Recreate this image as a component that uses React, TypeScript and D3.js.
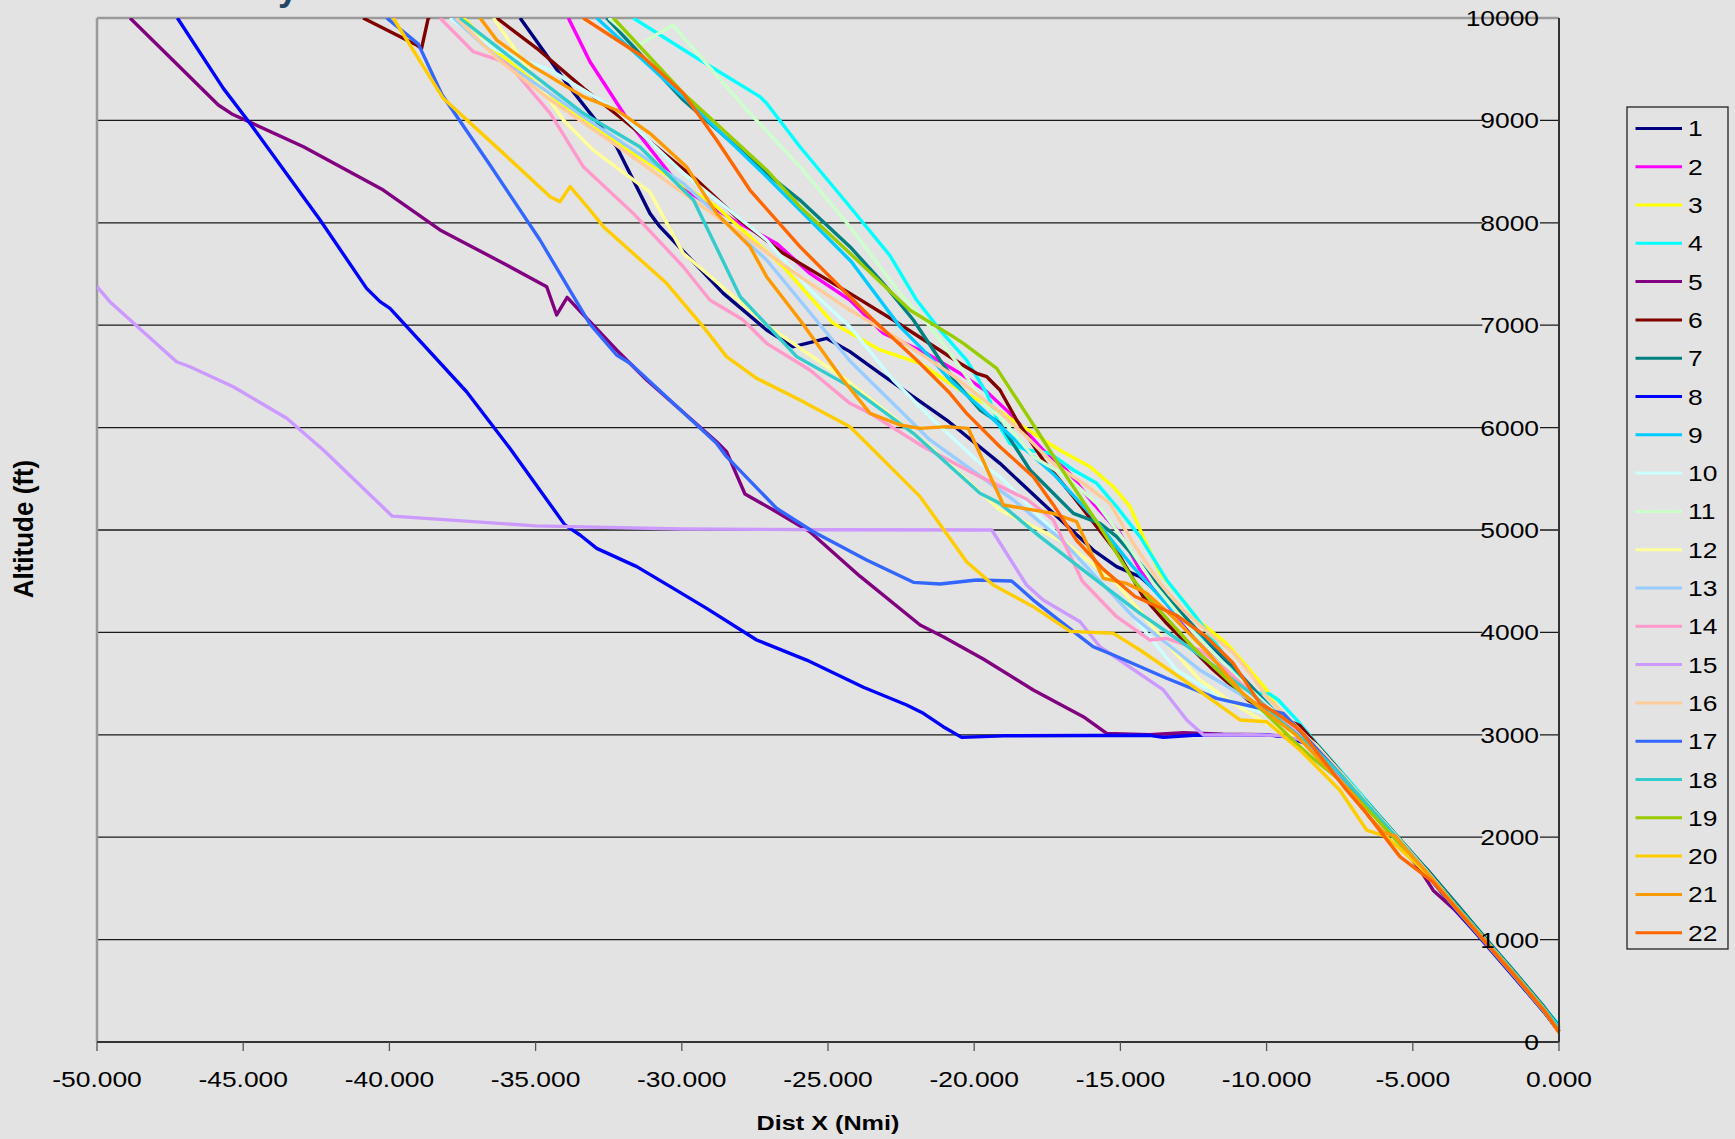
import React from "react";
import * as d3 from "d3";

type P = [number, number];

const xTicks = [-50, -45, -40, -35, -30, -25, -20, -15, -10, -5, 0];
const yTicks = [0, 1000, 2000, 3000, 4000, 5000, 6000, 7000, 8000, 9000, 10000];
const seriesNames = ["1","2","3","4","5","6","7","8","9","10","11","12","13","14","15","16","17","18","19","20","21","22"];
const seriesColors = ["#000080","#FF00FF","#FFFF00","#00FFFF","#800080","#800000","#008080","#0000FF","#00CCFF","#CCFFFF","#CCFFCC","#FFFF99","#99CCFF","#FF99CC","#CC99FF","#FFCC99","#3366FF","#33CCCC","#99CC00","#FFCC00","#FF9900","#FF6600"];

const s1: P[] = [[-35.53,10000],[-33.94,9362],[-32.23,8743],[-31.09,8092],[-30.75,7962],[-28.58,7311],[-27.1,6953],[-26.19,6790],[-25.73,6823],[-25.05,6872],[-24.25,6742],[-23.22,6530],[-20.94,6074],[-19.12,5651],[-17.41,5195],[-15.93,4804],[-15.13,4642],[-14.33,4544],[-13.42,4316],[-12.63,4023],[-11.14,3665],[-10.91,3568],[-10.0,3274],[-9.2,3120],[-8.5,2950],[-7.5,2630],[-6.5,2300],[-5.5,1980],[-4.5,1650],[-3.5,1300],[-2.5,970],[-1.5,640],[-0.5,300],[0,100]];
const s2: P[] = [[-33.88,10000],[-33.14,9573],[-31.77,8972],[-30.06,8353],[-28.24,8027],[-26.76,7799],[-25.62,7506],[-24.25,7246],[-23.11,6921],[-21.63,6725],[-20.49,6530],[-19.57,6351],[-18.78,6139],[-17.64,5781],[-16.84,5586],[-15.93,5260],[-15.01,4967],[-14.33,4609],[-13.2,4200],[-12.0,3850],[-11.0,3560],[-10.0,3280],[-9.2,3100],[-8.5,2960],[-7.5,2650],[-6.5,2320],[-5.5,1990],[-4.5,1660],[-3.5,1310],[-2.5,980],[-1.5,650],[-0.5,310],[0,120]];
const s3: P[] = [[-37.47,10000],[-36.33,9671],[-34.28,9199],[-31.66,8678],[-28.81,8157],[-26.53,7571],[-24.82,7018],[-23.22,6758],[-21.85,6628],[-20.49,6367],[-19.12,6155],[-17.98,5944],[-17.08,5781],[-16.04,5618],[-15.24,5423],[-14.67,5228],[-14.22,4935],[-13.64,4577],[-12.96,4349],[-12.28,4100],[-11.37,3894],[-10.57,3633],[-10.0,3438],[-9.66,3274],[-9.0,3080],[-8.2,2850],[-7.2,2540],[-6.3,2230],[-5.5,1970],[-4.5,1650],[-3.5,1310],[-2.5,970],[-1.5,640],[-0.5,300],[0,100]];
const s4: P[] = [[-31.66,10000],[-29.38,9590],[-27.33,9232],[-27.1,9167],[-25.96,8743],[-24.25,8157],[-22.88,7679],[-21.97,7246],[-21.17,6953],[-20.26,6660],[-19.57,6335],[-19.12,6009],[-18.78,5846],[-18.21,5781],[-17.41,5749],[-16.61,5586],[-15.81,5456],[-15.13,5228],[-14.33,4935],[-13.42,4512],[-12.51,4186],[-11.82,3926],[-11.0,3600],[-10.4,3410],[-9.9,3400],[-9.6,3340],[-8.97,3145],[-8.3,2920],[-7.5,2660],[-6.5,2330],[-5.5,2000],[-4.5,1670],[-3.5,1330],[-2.5,1000],[-1.5,670],[-0.5,330],[0,170]];
const s5: P[] = [[-48.87,10000],[-45.85,9150],[-45.39,9063],[-44.88,8997],[-42.94,8743],[-40.21,8320],[-38.27,7930],[-35.99,7588],[-34.62,7376],[-34.28,7100],[-33.92,7272],[-33.14,7034],[-32.23,6758],[-31.2,6465],[-28.81,5862],[-28.47,5765],[-27.84,5352],[-26.87,5195],[-25.62,4983],[-23.91,4549],[-21.85,4072],[-21.06,3958],[-19.69,3740],[-17.98,3438],[-16.27,3177],[-15.47,3014],[-14.0,3000],[-12.85,3020],[-11.5,3005],[-10.0,3000],[-9.3,2980],[-8.5,2910],[-7.5,2620],[-6.5,2280],[-5.5,1960],[-4.7,1660],[-4.3,1480],[-3.6,1300],[-2.5,960],[-1.5,630],[-0.5,290],[0,110]];
const s6: P[] = [[-40.9,10000],[-39.07,9736],[-38.9,9704],[-38.67,10000],[-37.5,10250],[-36.33,10000],[-34.96,9704],[-33.36,9313],[-31.99,9004],[-29.49,8418],[-28.02,8027],[-26.53,7702],[-24.25,7311],[-22.77,7051],[-20.49,6628],[-19.92,6530],[-19.57,6497],[-19.12,6367],[-18.55,6074],[-17.64,5684],[-16.61,5326],[-15.81,5033],[-15.01,4740],[-14.22,4349],[-13.42,4089],[-12.74,3894],[-11.82,3633],[-10.6,3330],[-9.6,3180],[-8.86,3090],[-7.72,2722],[-6.58,2331],[-5.32,1907],[-4.5,1680],[-3.5,1340],[-2.5,1000],[-1.5,660],[-0.5,320],[0,130]];
const s7: P[] = [[-32.57,10000],[-29.95,9199],[-27.1,8483],[-25.96,8222],[-24.25,7767],[-23.11,7409],[-22.08,7051],[-21.17,6660],[-20.6,6432],[-19.8,6172],[-19.12,6042],[-18.09,5586],[-16.61,5163],[-15.7,5065],[-15.13,4935],[-14.33,4674],[-13.42,4349],[-12.3,4000],[-11.0,3620],[-9.8,3250],[-9.0,3020],[-8.5,2880],[-7.5,2620],[-6.5,2320],[-5.5,2000],[-4.5,1680],[-3.5,1350],[-2.5,1010],[-1.5,680],[-0.5,340],[0,150]];
const s8: P[] = [[-47.25,10000],[-45.68,9313],[-44.77,8972],[-42.37,8027],[-40.78,7360],[-40.32,7230],[-39.98,7165],[-37.36,6350],[-35.88,5798],[-34.0,5050],[-33.48,4951],[-32.91,4821],[-31.54,4642],[-30.29,4430],[-29.15,4235],[-27.44,3926],[-25.73,3730],[-23.79,3464],[-22.31,3291],[-21.74,3210],[-21.06,3079],[-20.43,2975],[-19.0,2990],[-16.0,2993],[-14.0,2995],[-13.53,2975],[-12.5,2995],[-10.0,3000],[-9.3,2980],[-8.5,2900],[-7.5,2610],[-6.5,2290],[-5.5,1960],[-4.5,1630],[-3.5,1280],[-2.5,950],[-1.5,620],[-0.5,290],[0,100]];
const s9: P[] = [[-32.91,10000],[-29.95,9232],[-27.1,8450],[-25.96,8125],[-24.2,7620],[-22.54,6986],[-21.63,6725],[-20.83,6465],[-19.69,6172],[-18.5,5850],[-17.3,5550],[-16.0,5150],[-14.6,4650],[-13.5,4300],[-12.3,3950],[-11.0,3560],[-10.0,3300],[-9.0,3040],[-8.3,2880],[-7.5,2640],[-6.5,2310],[-5.5,1990],[-4.5,1660],[-3.5,1320],[-2.5,990],[-1.5,660],[-0.5,320],[0,140]];
const s10: P[] = [[-37.93,10000],[-36.33,9687],[-35.88,9638],[-34.5,9492],[-32.23,9102],[-29.95,8483],[-27.1,7832],[-25.62,7344],[-24.25,6986],[-22.77,6465],[-21.4,6074],[-19.8,5651],[-19.12,5521],[-16.84,4869],[-14.56,4153],[-13.08,3633],[-11.5,3350],[-10.0,3200],[-9.2,3050],[-8.5,2930],[-7.5,2630],[-6.5,2300],[-5.5,1980],[-4.5,1650],[-3.5,1310],[-2.5,980],[-1.5,650],[-0.5,310],[0,120]];
const s11: P[] = [[-32.5,10000],[-31.44,9740],[-30.31,9932],[-29.27,9590],[-27.67,9069],[-25.96,8548],[-24.25,7962],[-22.54,7311],[-21.51,6986],[-20.49,6595],[-19.57,6204],[-19.12,6107],[-17.98,5716],[-16.84,5521],[-15.81,5260],[-14.79,4869],[-13.88,4479],[-12.5,4000],[-11.0,3560],[-10.0,3290],[-9.0,3060],[-8.3,2900],[-7.5,2640],[-6.5,2310],[-5.5,1990],[-4.5,1660],[-3.5,1320],[-2.5,990],[-1.5,660],[-0.5,320],[0,130]];
const s12: P[] = [[-36.44,10000],[-34.05,9004],[-33.03,8710],[-31.09,8300],[-29.95,7702],[-27.1,7002],[-24.3,6450],[-21.51,5813],[-19.12,5195],[-17.98,5033],[-16.84,4869],[-15.13,4479],[-13.42,3894],[-12.28,3535],[-11.14,3307],[-10.0,3112],[-9.0,2980],[-8.3,2830],[-7.5,2600],[-6.5,2280],[-5.5,1970],[-4.5,1640],[-3.5,1300],[-2.5,970],[-1.5,640],[-0.5,300],[0,110]];
const s13: P[] = [[-37.81,10000],[-36.33,9622],[-33.37,9037],[-29.95,8385],[-27.1,7637],[-24.25,6650],[-21.51,5879],[-18.66,5293],[-17.0,4900],[-14.56,4153],[-12.28,3633],[-10.57,3340],[-9.5,3150],[-8.5,2940],[-7.5,2630],[-6.5,2300],[-5.5,1980],[-4.5,1650],[-3.5,1310],[-2.5,980],[-1.5,650],[-0.5,310],[0,120]];
const s14: P[] = [[-38.27,10000],[-37.13,9671],[-36.1,9573],[-35.76,9492],[-34.5,9069],[-33.37,8548],[-31.66,8092],[-29.95,7571],[-29.04,7246],[-27.9,7051],[-27.1,6823],[-25.62,6562],[-24.25,6237],[-23.56,6139],[-21.74,5813],[-19.8,5521],[-18.2,5300],[-17.3,5100],[-16.3,4500],[-15.13,4153],[-14.0,3926],[-13.42,3942],[-12.28,3828],[-11.37,3633],[-10.3,3350],[-9.5,3150],[-8.5,2930],[-7.5,2620],[-6.5,2290],[-5.5,1970],[-4.5,1640],[-3.5,1300],[-2.5,970],[-1.5,640],[-0.5,300],[0,110]];
const s15: P[] = [[-50,7376],[-49.56,7230],[-47.28,6643],[-46.82,6594],[-45.34,6399],[-43.51,6091],[-42.26,5781],[-39.9,5135],[-35.0,5040],[-30.0,5010],[-25.0,5003],[-19.4,5000],[-18.21,4463],[-17.64,4316],[-16.38,4104],[-15.7,3860],[-13.53,3438],[-12.73,3145],[-12.16,2998],[-10.5,3000],[-9.6,2995],[-8.8,2950],[-8.2,2800],[-7.5,2600],[-6.5,2280],[-5.5,1960],[-4.5,1640],[-3.5,1300],[-2.5,970],[-1.5,640],[-0.5,300],[0,110]];
const s16: P[] = [[-37.7,10000],[-36.3,9600],[-34.5,9200],[-32.2,8750],[-30.0,8300],[-28.0,7900],[-25.96,7474],[-24.25,7148],[-22.54,6855],[-20.83,6530],[-19.12,6150],[-18.21,5911],[-17.3,5651],[-16.27,5456],[-15.36,5260],[-14.56,4869],[-13.64,4479],[-12.85,4219],[-11.82,3958],[-11.14,3800],[-10.57,3600],[-10.0,3372],[-9.43,3210],[-8.7,3000],[-7.5,2640],[-6.5,2310],[-5.5,1990],[-4.5,1660],[-3.5,1320],[-2.5,990],[-1.5,660],[-0.5,320],[0,120]];
const s17: P[] = [[-40.09,10000],[-39.01,9745],[-38.2,9250],[-36.56,8565],[-34.85,7832],[-33.14,7010],[-32.23,6709],[-31.77,6628],[-28.81,5846],[-28.47,5716],[-26.76,5212],[-25.5,4983],[-23.68,4707],[-22.08,4489],[-21.17,4473],[-19.92,4512],[-18.72,4502],[-17.98,4316],[-16.38,3958],[-15.93,3860],[-15.24,3779],[-13.42,3552],[-11.71,3356],[-10.45,3274],[-9.43,3210],[-8.6,2960],[-7.5,2620],[-6.5,2290],[-5.5,1970],[-4.5,1630],[-3.5,1290],[-2.5,960],[-1.5,630],[-0.5,290],[0,100]];
const s18: P[] = [[-37.59,10000],[-36.33,9720],[-33.37,9069],[-31.44,8743],[-29.6,8222],[-28.0,7278],[-26.07,6693],[-24.25,6400],[-22.08,5944],[-19.8,5358],[-19.12,5260],[-17.75,4935],[-16.27,4609],[-14.33,4186],[-12.85,3894],[-12.06,3730],[-10.5,3400],[-9.5,3130],[-8.5,2900],[-7.5,2620],[-6.5,2300],[-5.5,1980],[-4.5,1650],[-3.5,1320],[-2.5,990],[-1.5,660],[-0.5,320],[0,130]];
const s19: P[] = [[-32.34,10000],[-29.95,9265],[-27.1,8516],[-25.96,8157],[-24.25,7702],[-22.2,7148],[-20.72,6888],[-20.37,6823],[-19.23,6579],[-17.86,5977],[-16.84,5521],[-15.7,5033],[-14.56,4512],[-13.88,4284],[-12.5,3850],[-11.0,3450],[-10.0,3200],[-9.0,2920],[-8.5,2790],[-7.5,2560],[-6.5,2260],[-5.5,1950],[-4.5,1630],[-3.5,1300],[-2.5,970],[-1.5,640],[-0.5,300],[0,110]];
const s20: P[] = [[-39.87,10000],[-38.16,9216],[-36.1,8678],[-34.5,8255],[-34.17,8206],[-33.82,8353],[-33.14,8125],[-32.68,7962],[-30.52,7409],[-29.27,6986],[-28.47,6693],[-27.44,6481],[-25.96,6270],[-24.25,6009],[-23.79,5879],[-21.85,5326],[-20.26,4690],[-19.35,4463],[-17.98,4251],[-16.72,4010],[-15.24,3991],[-14.33,3828],[-12.51,3470],[-10.91,3145],[-10.0,3128],[-8.86,2852],[-7.5,2461],[-6.58,2070],[-5.9,2005],[-5.3,1850],[-4.5,1640],[-3.5,1300],[-2.5,970],[-1.5,640],[-0.5,300],[0,100]];
const s21: P[] = [[-36.9,10000],[-36.33,9785],[-35.08,9525],[-33.37,9232],[-32.23,9102],[-31.09,8874],[-29.84,8548],[-28.81,8092],[-27.67,7767],[-27.1,7474],[-25.96,7051],[-24.48,6465],[-23.56,6139],[-22.54,6025],[-21.85,5992],[-20.94,6009],[-20.2,5992],[-19.0,5244],[-17.3,5163],[-16.5,5081],[-15.59,4528],[-14.79,4479],[-14.1,4382],[-13.2,4150],[-12.0,3800],[-10.8,3400],[-10.0,3220],[-9.0,3000],[-8.0,2700],[-7.0,2400],[-6.5,2200],[-6.0,2050],[-5.6,2010],[-5.2,1870],[-4.5,1650],[-3.5,1310],[-2.5,980],[-1.5,650],[-0.5,310],[0,90]];
const s22: P[] = [[-33.37,10000],[-31.33,9622],[-29.95,9265],[-28.81,8808],[-27.67,8320],[-25.96,7767],[-24.25,7278],[-23.45,7051],[-21.97,6660],[-20.83,6335],[-20.26,6139],[-19.12,5813],[-17.98,5521],[-17.3,5250],[-16.5,4900],[-15.6,4620],[-14.5,4350],[-13.1,4170],[-12.06,3958],[-11.14,3698],[-10.23,3307],[-9.66,3210],[-8.86,3047],[-7.27,2461],[-6.58,2233],[-5.79,1940],[-5.44,1810],[-4.3,1560],[-2.59,996],[-1.5,640],[-0.5,300],[0,100]];

const seriesData: P[][] = [s1,s2,s3,s4,s5,s6,s7,s8,s9,s10,s11,s12,s13,s14,s15,s16,s17,s18,s19,s20,s21,s22];

const FONT = "'Liberation Sans', Arial, Helvetica, sans-serif";
const BG = "#e3e3e3";

export default function App() {
  const W = 1735, H = 1139;
  const left = 97, right = 1559, top = 18, bottom = 1042;
  const x = d3.scaleLinear().domain([-50, 0]).range([left, right]);
  const y = d3.scaleLinear().domain([0, 10000]).range([bottom, top]);
  const line = d3.line<P>().x(d => x(d[0])).y(d => y(d[1]));
  const fmtX = d3.formatLocale({ decimal: ".", thousands: ",", grouping: [3], currency: ["", ""], minus: "-" }).format(".3f");
  const fs = 22;
  const sx = 1.2;
  const legX = 1627, legY = 107, legW = 101, legH = 842;
  const legStep = 38.3;

  return (
    <svg width={W} height={H} style={{ position: "absolute", left: 0, top: 0, display: "block" }} fontFamily={FONT}>
      <defs>
        <clipPath id="plotClip">
          <rect x={left} y={top} width={right - left + 2} height={bottom - top} />
        </clipPath>
      </defs>
      <rect x={0} y={0} width={W} height={H} fill={BG} />
      <text x={278} y={0} fontSize={36} fontWeight="bold" fill="#234566">y</text>
      {yTicks.filter(t => t > 0).map(t => (
        <line key={"g" + t} x1={left} x2={right} y1={y(t)} y2={y(t)} stroke="#1a1a1a" strokeWidth={1.3} />
      ))}
      {yTicks.map(t => {
        const w = String(t).length * 13.4 + 4;
        return <rect key={"lb" + t} x={1540 - w} y={y(t) - 10} width={w} height={20} fill={BG} />;
      })}
      <line x1={left} x2={left} y1={top} y2={bottom} stroke="#9a9a9a" strokeWidth={2.5} />
      <line x1={left} x2={right} y1={top} y2={top} stroke="#9a9a9a" strokeWidth={2.5} />
      <g clipPath="url(#plotClip)">
        {seriesData.map((d, i) => (
          <path key={"s" + i} d={line(d) || ""} fill="none" stroke={seriesColors[i]} strokeWidth={3.4} strokeLinejoin="round" />
        ))}
      </g>
      <line x1={right} x2={right} y1={top} y2={bottom} stroke="#333" strokeWidth={2} />
      <line x1={left} x2={right} y1={bottom} y2={bottom} stroke="#333" strokeWidth={2} />
      {xTicks.map(t => (
        <line key={"xt" + t} x1={x(t)} x2={x(t)} y1={bottom} y2={bottom + 9} stroke="#555" strokeWidth={1.3} />
      ))}
      {xTicks.map(t => (
        <text key={"xl" + t} transform={`translate(${x(t)},${1087}) scale(${sx},1)`} textAnchor="middle" fontSize={fs} fill="#000">{fmtX(t)}</text>
      ))}
      {yTicks.map(t => (
        <text key={"yl" + t} transform={`translate(1539,${y(t) + 8}) scale(${sx},1)`} textAnchor="end" fontSize={fs} fill="#000">{t}</text>
      ))}
      <text transform={`translate(${828},${1130}) scale(${sx},1)`} textAnchor="middle" fontSize={21} fontWeight="bold">Dist X (Nmi)</text>
      <text transform={`translate(${33},${529}) rotate(-90) scale(1,1.05)`} textAnchor="middle" fontSize={26} fontWeight="bold">Altitude (ft)</text>
      <rect x={legX} y={legY} width={legW} height={legH} fill={BG} stroke="#222" strokeWidth={1.3} />
      {seriesNames.map((n, i) => {
        const cy = legY + 21.4 + i * legStep;
        return (
          <g key={"lg" + i}>
            <line x1={1635.5} x2={1682} y1={cy} y2={cy} stroke={seriesColors[i]} strokeWidth={3} />
            <text transform={`translate(1688,${cy + 8}) scale(${sx},1)`} fontSize={fs} fill="#000">{n}</text>
          </g>
        );
      })}
    </svg>
  );
}
